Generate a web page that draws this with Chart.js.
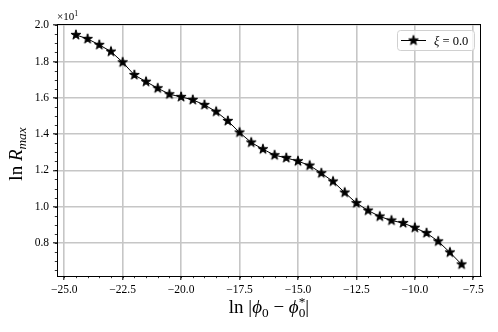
<!DOCTYPE html>
<html lang="en">
<head>
  <meta charset="UTF-8">
  <title>ln Rmax vs ln |phi0 - phi0*|</title>
  <script src="https://cdn.jsdelivr.net/npm/chart.js"></script>
  <style>
    html, body { margin: 0; padding: 0; background: #fff; }
    #wrap { width: 498px; height: 332px; }
  </style>
</head>
<body>
  <div id="wrap"><canvas id="grafico"></canvas></div>

  <script>
    // data
    const xValues = [-24.5, -24.0, -23.5, -23.0, -22.5, -22.0, -21.5, -21.0, -20.5, -20.0,
                     -19.5, -19.0, -18.5, -18.0, -17.5, -17.0, -16.5, -16.0, -15.5, -15.0,
                     -14.5, -14.0, -13.5, -13.0, -12.5, -12.0, -11.5, -11.0, -10.5, -10.0,
                     -9.5, -9.0, -8.5, -8.0];
    const yValues = [19.47, 19.25, 18.92, 18.55, 17.96, 17.26, 16.89, 16.53, 16.20, 16.05,
                     15.89, 15.61, 15.24, 14.73, 14.09, 13.54, 13.17, 12.84, 12.69, 12.51,
                     12.27, 11.85, 11.39, 10.78, 10.20, 9.79, 9.46, 9.24, 9.10, 8.84,
                     8.55, 8.09, 7.48, 6.82];
    const xTicks = [-25, -22.5, -20, -17.5, -15, -12.5, -10, -7.5];
    const yTicks = [8, 10, 12, 14, 16, 18, 20];
    const seriesLabel = '\u03be = 0.0';

    const serif = '"Liberation Serif", "DejaVu Serif", serif';
    const minus = s => s.replace('-', '\u2212');

    // filled five-point star marker
    function makeStar(r) {
      const size = Math.ceil(r * 2 + 3);
      const c = document.createElement('canvas');
      c.width = size; c.height = size;
      const g = c.getContext('2d');
      const cx = size / 2, cy = size / 2, ri = r * 0.382;
      g.beginPath();
      for (let i = 0; i < 10; i++) {
        const rad = i % 2 === 0 ? r : ri;
        const a = -Math.PI / 2 + i * Math.PI / 5;
        g.lineTo(cx + rad * Math.cos(a), cy + rad * Math.sin(a));
      }
      g.closePath();
      g.fillStyle = '#000';
      g.fill();
      g.lineWidth = 1;
      g.strokeStyle = '#000';
      g.stroke();
      return c;
    }
    const star = makeStar(5.2);

    // draw text made of pieces (italic / subscript / superscript)
    function richWidth(ctx, parts, size) {
      let w = 0;
      parts.forEach(p => {
        const fs = p.pos ? size * 0.7 : size;
        ctx.font = (p.it ? 'italic ' : '') + fs + 'px ' + serif;
        if (!p.stack) w += ctx.measureText(p.t).width;
      });
      return w;
    }
    function drawRich(ctx, parts, size, x, y) {
      let cx = x, lastW = 0;
      parts.forEach(p => {
        const fs = p.pos ? size * 0.7 : size;
        ctx.font = (p.it ? 'italic ' : '') + fs + 'px ' + serif;
        let dy = 0;
        if (p.pos === 'sub') dy = size * 0.22;
        if (p.pos === 'sup') dy = -size * 0.38;
        if (p.stack) {
          ctx.fillText(p.t, cx - lastW, y + dy);
        } else {
          ctx.fillText(p.t, cx, y + dy);
          lastW = ctx.measureText(p.t).width;
          cx += lastW;
        }
      });
    }

    const extras = {
      id: 'extras',
      afterDraw(chart) {
        const { ctx, chartArea: a, scales: { x, y } } = chart;
        ctx.save();

        // minor ticks
        ctx.strokeStyle = '#000';
        ctx.lineWidth = 0.8;
        ctx.beginPath();
        for (let v = -25.0; v <= x.max; v += 0.5) {
          if (v < x.min) continue;
          const px = Math.round(x.getPixelForValue(v)) + 0.5;
          ctx.moveTo(px, a.bottom); ctx.lineTo(px, a.bottom + 2.2);
        }
        for (let v = 6.5; v <= y.max; v += 0.5) {
          const py = Math.round(y.getPixelForValue(v)) + 0.5;
          ctx.moveTo(a.left, py); ctx.lineTo(a.left - 2.2, py);
        }
        ctx.stroke();

        // frame
        ctx.lineWidth = 1;
        ctx.strokeRect(a.left + 0.5, a.top + 0.5, a.right - a.left - 1, a.bottom - a.top);

        ctx.fillStyle = '#000';
        ctx.textBaseline = 'alphabetic';
        ctx.textAlign = 'left';

        // offset text
        drawRich(ctx, [{ t: '\u00d710' }, { t: '1', pos: 'sup' }], 11, a.left, a.top - 4);

        // x title
        const xParts = [
          { t: 'ln |' }, { t: '\u03d5', it: true }, { t: '0', pos: 'sub' },
          { t: ' \u2212 ' }, { t: '\u03d5', it: true }, { t: '0', pos: 'sub' },
          { t: '*', pos: 'sup', stack: true }, { t: '|' }
        ];
        const xw = richWidth(ctx, xParts, 19);
        drawRich(ctx, xParts, 19, (a.left + a.right) / 2 - xw / 2, 313);

        // y title
        const yParts = [{ t: 'ln ' }, { t: 'R', it: true }, { t: 'max', it: true, pos: 'sub' }];
        const yw = richWidth(ctx, yParts, 19);
        ctx.save();
        ctx.translate(22, 154);
        ctx.rotate(-Math.PI / 2);
        drawRich(ctx, yParts, 19, -yw / 2, 0);
        ctx.restore();

        // legend
        const lx = 397.5, ly = 30.5, lw = 77, lh = 20;
        ctx.beginPath();
        ctx.roundRect(lx, ly, lw, lh, 3);
        ctx.fillStyle = 'rgba(255,255,255,0.8)';
        ctx.fill();
        ctx.strokeStyle = '#d0d0d0';
        ctx.lineWidth = 1;
        ctx.stroke();
        ctx.strokeStyle = '#000';
        ctx.beginPath();
        ctx.moveTo(401, 40.5); ctx.lineTo(426, 40.5);
        ctx.stroke();
        ctx.drawImage(star, 413.5 - star.width / 2, 40.5 - star.height / 2);
        ctx.fillStyle = '#000';
        drawRich(ctx, [{ t: '\u03be', it: true }, { t: ' = 0.0' }], 12.5, 434, 44.5);

        ctx.restore();
      }
    };

    const gridStyle = { color: '#c6c6c6', lineWidth: 1.6, tickLength: 4, tickColor: '#000', tickWidth: 1 };

    new Chart(document.getElementById('grafico'), {
      type: 'scatter',
      data: {
        datasets: [{
          label: seriesLabel,
          data: xValues.map((v, i) => ({ x: v, y: yValues[i] })),
          showLine: true,
          borderColor: '#000',
          borderWidth: 1,
          pointStyle: star,
          pointRadius: 5,
          pointHoverRadius: 5,
          tension: 0
        }]
      },
      options: {
        responsive: true,
        maintainAspectRatio: false,
        animation: false,
        events: [],
        layout: { padding: { top: 24, right: 17, left: 0, bottom: 0 } },
        plugins: { legend: { display: false }, tooltip: { enabled: false } },
        scales: {
          x: {
            type: 'linear',
            min: -25.31,
            max: -7.17,
            afterBuildTicks: s => { s.ticks = xTicks.map(v => ({ value: v })); },
            afterFit: s => { s.height = 56; },
            grid: gridStyle,
            border: { display: true, color: '#000', width: 1 },
            ticks: {
              color: '#000',
              padding: 3,
              maxRotation: 0,
              font: { family: serif, size: 11.5 },
              callback: v => minus(v.toFixed(1))
            }
          },
          y: {
            type: 'linear',
            min: 6.18,
            max: 20.07,
            afterBuildTicks: s => { s.ticks = yTicks.map(v => ({ value: v })); },
            afterFit: s => { s.width = 57; },
            grid: gridStyle,
            border: { display: true, color: '#000', width: 1 },
            ticks: {
              color: '#000',
              padding: 4,
              font: { family: serif, size: 11.5 },
              callback: v => (v / 10).toFixed(1)
            }
          }
        }
      },
      plugins: [extras]
    });
  </script>
</body>
</html>
